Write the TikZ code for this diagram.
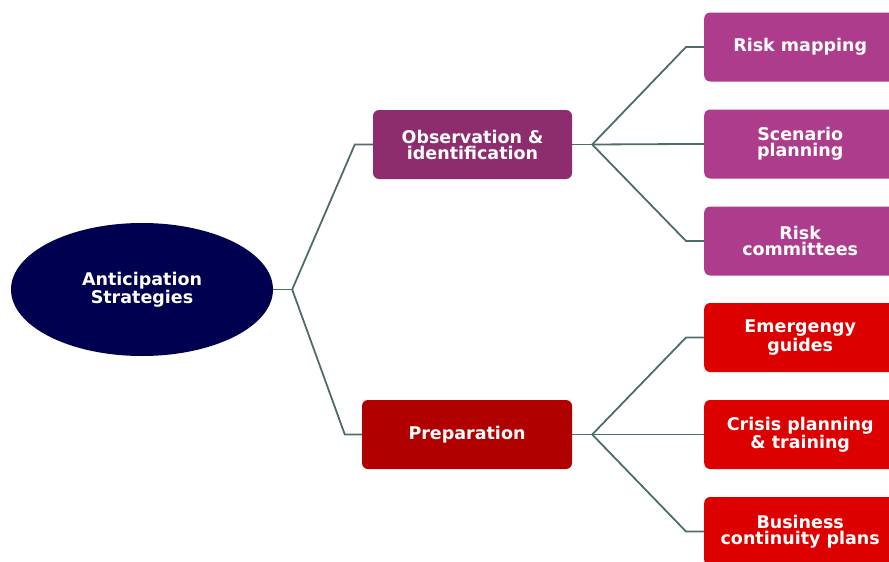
\documentclass[tikz,border=0pt]{standalone}
\usepackage{fontspec}
\setmainfont{DejaVu Sans}
\usepackage{xcolor}
\usepackage{tikz}
\usetikzlibrary{shapes.geometric, positioning}
\definecolor{RootNavy}{HTML}{000050}
\definecolor{ObsPlum}{HTML}{8E2D6E}
\definecolor{ObsPink}{HTML}{AD3C8D}
\definecolor{PrepRed}{HTML}{B00000}
\definecolor{PrepBright}{HTML}{DC0000}
\definecolor{LinkGrey}{HTML}{4F6B6B}

\begin{document}
\begin{tikzpicture}[x=1pt, y=-1pt, align=center, every node/.style={text=white, font=\fontsize{17.5}{16}\selectfont\bfseries, inner sep=0pt},
    branch/.style={rectangle, rounded corners=6pt, minimum height=69pt},
    leaf/.style={branch, anchor=west, minimum width=192pt},
    link/.style={draw=LinkGrey, line width=1.8pt}]
  \useasboundingbox (0,0) rectangle (889,562);
  \clip (0,0) rectangle (889,562);

  \node (root) [ellipse, fill=RootNavy, minimum width=262pt, minimum height=133pt] at (142,289.5) {Anticipation\\Strategies};

  \node (obs) [branch, fill=ObsPlum, minimum width=199pt] at (472.5,144.5) {Observation \&\\identification};
  \node (prep) [branch, fill=PrepRed, minimum width=210pt] at (467,434.5) {Preparation};

  \node (riskmap) [leaf, fill=ObsPink] at (704,47) {Risk mapping};
  \node (scenario) [leaf, fill=ObsPink] at (704,144) {Scenario\\planning};
  \node (committee) [leaf, fill=ObsPink] at (704,241) {Risk\\committees};
  \node (emergency) [leaf, fill=PrepBright] at (704,337.5) {Emergengy\\guides};
  \node (crisis) [leaf, fill=PrepBright] at (704,434.5) {Crisis planning\\\& training};
  \node (business) [leaf, fill=PrepBright] at (704,531.5) {Business\\continuity plans};

  \coordinate (rootfork) at ([xshift=19pt]root.east);
  \coordinate (obsfork) at ([xshift=20pt]obs.east);
  \coordinate (prepfork) at ([xshift=20pt]prep.east);

  \draw[link] (root.east) -- (rootfork);
  \draw[link] (rootfork) -- ([xshift=-18pt]obs.west) -- (obs.west);
  \draw[link] (rootfork) -- ([xshift=-17pt]prep.west) -- (prep.west);

  \draw[link] (obs.east) -- (obsfork);
  \foreach \leafname in {riskmap, scenario, committee}
    \draw[link] (obsfork) -- ([xshift=-18pt]\leafname.west) -- (\leafname.west);

  \draw[link] (prep.east) -- (prepfork);
  \foreach \leafname in {emergency, crisis, business}
    \draw[link] (prepfork) -- ([xshift=-18pt]\leafname.west) -- (\leafname.west);
\end{tikzpicture}
\end{document}
